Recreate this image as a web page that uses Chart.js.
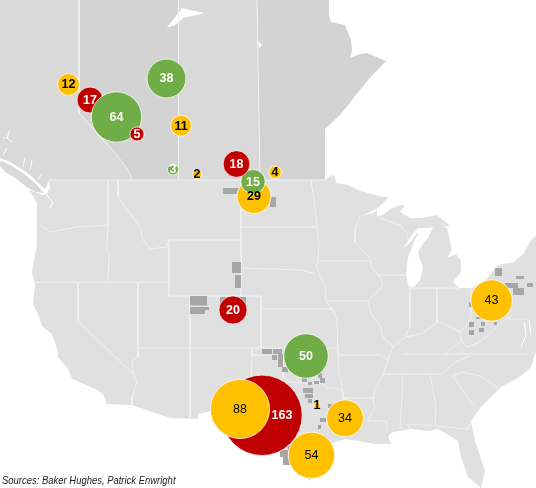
<!DOCTYPE html>
<html>
<head>
<meta charset="utf-8">
<script src="https://cdn.jsdelivr.net/npm/chart.js@4"></script>
<style>
  body { margin: 0; background: #fff; }
  #wrap { position: relative; width: 536px; height: 488px; overflow: hidden; }
  #source {
    position: absolute; left: 2px; top: 474px; white-space: nowrap;
    font: italic 11px "Liberation Sans", sans-serif; color: #222;
    transform: scaleX(0.86); transform-origin: left;
  }
</style>
</head>
<body>
<div id="wrap">
  <canvas id="rigMap" width="536" height="488"></canvas>
  <div id="source">Sources: Baker Hughes, Patrick Enwright</div>
</div>
<script>
// Rig counts, listed back to front so the overlaps come out right
const rigCounts = [163, 88, 54, 50, 43, 34, 29, 15, 20, 18, 4, 2, 1, 3, 11, 38, 17, 12, 64, 5];
const rigX = [262, 240, 311.5, 306, 491.5, 345, 254, 253, 233, 236.5, 275, 197, 317, 173, 181, 166.5, 90, 68.5, 116.5, 137];
const rigY = [415.3, 409, 455.3, 356, 300.5, 418.3, 196.5, 181.7, 310, 164, 172.3, 174.5, 405, 169.5, 125.7, 78.5, 100, 84.5, 117, 134];
const rigGroup = ['red', 'yellow', 'yellow', 'green', 'yellow', 'yellow', 'yellow', 'green', 'red', 'red', 'yellow', 'yellow', 'yellow', 'green', 'yellow', 'green', 'red', 'yellow', 'green', 'red'];

// Map outlines, in map units (the axes run 0-536 and 0-488)
const britishColumbia = [[0,0],[79,0],[79,113],[90,125],[100,137],[113,150],[128,170],[132,180],[50,180],[45,189],[37,182],[23,170],[10,162],[0,158]];
const vancouverIsland = [[0,166],[5,172],[15,178],[28,188],[36,192],[44,193],[36,184],[23,173],[10,165],[0,160]];
const alberta = [[79,0],[178.5,0],[178.5,180],[132,180],[128,170],[113,150],[100,137],[90,125],[79,113]];
const saskatchewan = [[178.5,0],[257,0],[260,180],[178.5,180]];
const manitoba = [[257,0],[329,0],[329,15],[331,22],[345,25],[351,40],[352,50],[350,58],[360,54],[367,53],[386,61],[368,80],[340,115],[325,129],[325,180],[260,180]];
const unitedStates = [[50,180],[325,180],[332,175],[335,176],[336,183],[348,185],[358,190],[368,193],[383,197],[389,197],[378,208],[368,213],[361,216],[365,215],[373,213],[377,210],[377,216],[383,215],[392,208],[400,205],[405,206],[400,212],[410,218],[423,218],[437,215],[447,223],[450,226],[437,227],[430,228],[418,228],[412,235],[404,247],[408,245],[419,231],[415,240],[408,258],[406,273],[408,285],[413,288],[420,280],[423,268],[418,253],[422,245],[428,238],[432,229],[437,225],[447,228],[452,250],[447,258],[456,254],[461,261],[461,272],[453,282],[459,288],[472,288],[486,280],[498,265],[514,262],[524,253],[529,243],[536,235],[536,351],[531,367],[521,376],[501,387],[481,407],[471,421],[475,441],[485,471],[481,488],[468,477],[461,457],[458,441],[450,436],[438,429],[428,431],[411,429],[393,432],[388,436],[391,444],[375,444],[358,441],[345,439],[333,443],[318,455],[312,470],[311,481],[300,474],[288,461],[281,451],[275,445],[262,440],[250,420],[235,405],[225,402],[215,410],[198,414],[198,419],[170,418],[132,405],[107,404],[103,394],[95,389],[77,381],[72,379],[68,369],[58,357],[58,352],[52,334],[42,326],[38,314],[33,304],[35,284],[32,272],[37,244],[37,225],[37,203],[29,190],[43,195],[48,193],[50,180]];
const lakeAthabasca = [[167,27],[173,20],[182,8],[190,10],[205,13],[197,15],[183,18],[175,25],[170,27]];
const reindeerLake = [[258,41],[262,45],[259,48]];
const canadaWater = [lakeAthabasca, reindeerLake];

// Provincial and state borders
const borderLines = [
  [[79,0],[79,113],[90,125],[100,137],[113,150],[128,170],[132,180]],
  [[178.5,0],[178.5,180]], [[257,0],[260,180]], [[50,180],[325,180]],
  [[38,223],[50,232],[77,227],[110,225]], [[108,180],[108,225],[107,249],[109,254],[108,282]],
  [[118,180],[118,197],[128,210],[140,227],[143,240],[150,249],[167,247],[169,240]],
  [[169,240],[241,240]], [[169,240],[169,296]], [[241,180],[241,297]],
  [[33,282],[168,282]], [[169,296],[261,296],[261,348]], [[190,296],[190,418]],
  [[138,282],[138,357],[132,361],[133,374],[137,382],[132,397],[132,405]],
  [[78,282],[78,321],[133,374]], [[138,348],[338,348]],
  [[252,348],[252,356],[250,405]], [[252,355],[283,355],[283,377],[290,382],[305,383],[322,383],[327,388],[337,388],[343,392]],
  [[241,227],[317,227]], [[311,180],[315,207],[317,227],[319,243],[318,261],[316,267],[320,276],[325,287],[326,301],[335,314],[337,322],[338,355],[339,372],[343,392],[343,398],[344,430]],
  [[241,268],[301,270],[316,274]], [[261,309],[333,309]],
  [[318,261],[370,261]], [[326,301],[368,301]],
  [[360,215],[355,230],[355,242],[370,258],[372,268],[380,277],[383,285],[375,294],[368,301],[371,314],[380,326],[383,337],[393,347],[388,359],[383,376],[375,387],[373,401],[375,407],[368,421],[386,421],[388,432]],
  [[380,218],[400,225],[407,233],[408,240]], [[378,275],[407,275]],
  [[410,288],[460,288]], [[410,287],[410,326],[405,337]], [[437,287],[437,322]],
  [[393,347],[405,337],[421,334],[438,322],[445,324],[460,332],[468,324],[471,317],[471,288]],
  [[338,355],[381,355],[388,361]], [[403,354],[528,354]], [[343,398],[375,398]],
  [[460,332],[461,341],[468,347],[481,341],[495,329],[506,319],[511,316]], [[461,341],[445,354]],
  [[470,356],[455,362],[443,373]], [[383,374],[443,374]], [[403,374],[400,429]],
  [[430,374],[436,407],[435,426],[408,424],[410,429]], [[436,426],[468,429],[471,421]],
  [[453,376],[461,372],[481,376],[500,389]], [[453,376],[465,394],[475,407]],
  [[508,319],[528,319]]
];
const coastLines = [
  [[0,160],[10,163],[23,170],[32,177],[43,190],[53,203],[50,208]],
  [[10,130],[7,138],[12,142]], [[7,138],[3,138]], [[7,148],[3,155]], [[25,158],[23,167]],
  [[32,160],[30,170]], [[42,173],[38,180]], [[48,182],[50,190]],
  [[524,322],[526,335],[521,347]], [[529,320],[531,335]]
];

// Oil and gas plays, as [left, top, right, bottom] blocks
const playBlocks = [
  [223,188,240,194], [270,197,276,207], [232,262,241,273], [235,275,241,288],
  [220,297,246,304], [190,296,207,305.5], [190,307,209,310], [190,310,205,314],
  [262,349,272,354], [273,349,282,354], [272,355,277,360], [278,354,283,362], [278,362,283,367], [282,367,288,372],
  [302,378,307,382], [308,382,312,385], [314,381,319,384], [320,378,325,383], [318,373,322,378],
  [303,388,313,393], [305,394,313,398], [308,399,312,403],
  [320,418,326,422], [318,425,321,429], [328,404,332,408],
  [280,450,288,457], [283,457,290,465], [288,446,292,451],
  [495,268,502,276], [516,276,524,279], [505,283,518,288], [513,288,524,295], [527,283,533,287],
  [469,302,472,307], [469,322,474,327], [476,317,481,319], [481,322,485,326], [469,330,474,335], [479,328,484,332], [494,322,497,325]
];

const groupColors = { red: '#c00000', yellow: '#ffc000', green: '#70ad47' };
const labelColors = { red: '#ffffff', yellow: '#000000', green: '#ffffff' };

function tracePolygon(chart, points) {
  const { ctx, scales: { x, y } } = chart;
  ctx.beginPath();
  points.forEach(([px, py], i) => {
    const cx = x.getPixelForValue(px), cy = y.getPixelForValue(py);
    if (i === 0) ctx.moveTo(cx, cy); else ctx.lineTo(cx, cy);
  });
  ctx.closePath();
}

// Line datasets cannot fill a closed shape, so the land goes in through a plugin
const landPlugin = {
  id: 'land',
  beforeDatasetsDraw(chart) {
    const { ctx } = chart;
    const layers = [
      [britishColumbia, '#d9d9d9'], [vancouverIsland, '#d9d9d9'], [alberta, '#d3d3d3'],
      [saskatchewan, '#d9d9d9'], [manitoba, '#d3d3d3'], [unitedStates, '#e0e0e0']
    ];
    ctx.save();
    layers.forEach(([points, color]) => {
      tracePolygon(chart, points);
      ctx.fillStyle = color;
      ctx.fill();
    });
    ctx.fillStyle = '#ffffff';
    canadaWater.forEach((points) => {
      tracePolygon(chart, points);
      ctx.fill();
    });
    ctx.restore();
  },
  // plays sit above the borders but below the bubbles
  beforeDatasetDraw(chart, args) {
    if (args.index !== 0) return;
    const { ctx } = chart;
    ctx.save();
    ctx.fillStyle = '#a6a6a6';
    playBlocks.forEach(([l, t, r, b]) => {
      tracePolygon(chart, [[l, t], [r, t], [r, b], [l, b]]);
      ctx.fill();
    });
    ctx.restore();
  }
};

const countLabelPlugin = {
  id: 'countLabels',
  afterDatasetsDraw(chart) {
    const { ctx } = chart;
    const meta = chart.getDatasetMeta(0);
    ctx.save();
    ctx.textAlign = 'center';
    ctx.textBaseline = 'middle';
    meta.data.forEach((point, i) => {
      const count = rigCounts[i];
      // the large yellow bubbles carry a lighter label
      const light = rigGroup[i] === 'yellow' && count > 30;
      ctx.font = (light ? '' : 'bold ') + '12.5px "Liberation Sans", sans-serif';
      ctx.fillStyle = labelColors[rigGroup[i]];
      // the 163 label moves right, clear of the 88 bubble on top of it
      const shift = count === 163 ? 20 : 0;
      ctx.fillText(count, point.x + shift, point.y + 0.5);
    });
    ctx.restore();
  }
};

const lineDataset = (points, color) => ({
  type: 'scatter',
  showLine: true,
  data: points.map(([x, y]) => ({ x, y })),
  borderColor: color,
  borderWidth: 1,
  pointRadius: 0,
  order: 1
});

new Chart(document.getElementById('rigMap').getContext('2d'), {
  type: 'bubble',
  data: {
    datasets: [
      {
        data: rigCounts.map((count, i) => ({
          x: rigX[i],
          y: rigY[i],
          r: 3.15 * Math.sqrt(count) // area follows the count
        })),
        backgroundColor: rigGroup.map((g) => groupColors[g]),
        borderColor: '#ffffff',
        borderWidth: 0.75,
        order: 0
      },
      ...borderLines.map((line) => lineDataset(line, '#f1f1f1')),
      ...coastLines.map((line) => lineDataset(line, '#ffffff'))
    ]
  },
  options: {
    responsive: false,
    animation: false,
    layout: { padding: 0, autoPadding: false },
    scales: {
      x: { type: 'linear', min: 0, max: 536, display: false },
      y: { type: 'linear', min: 0, max: 488, reverse: true, display: false }
    },
    plugins: { legend: { display: false }, tooltip: { enabled: false } }
  },
  plugins: [landPlugin, countLabelPlugin]
});
</script>
</body>
</html>
